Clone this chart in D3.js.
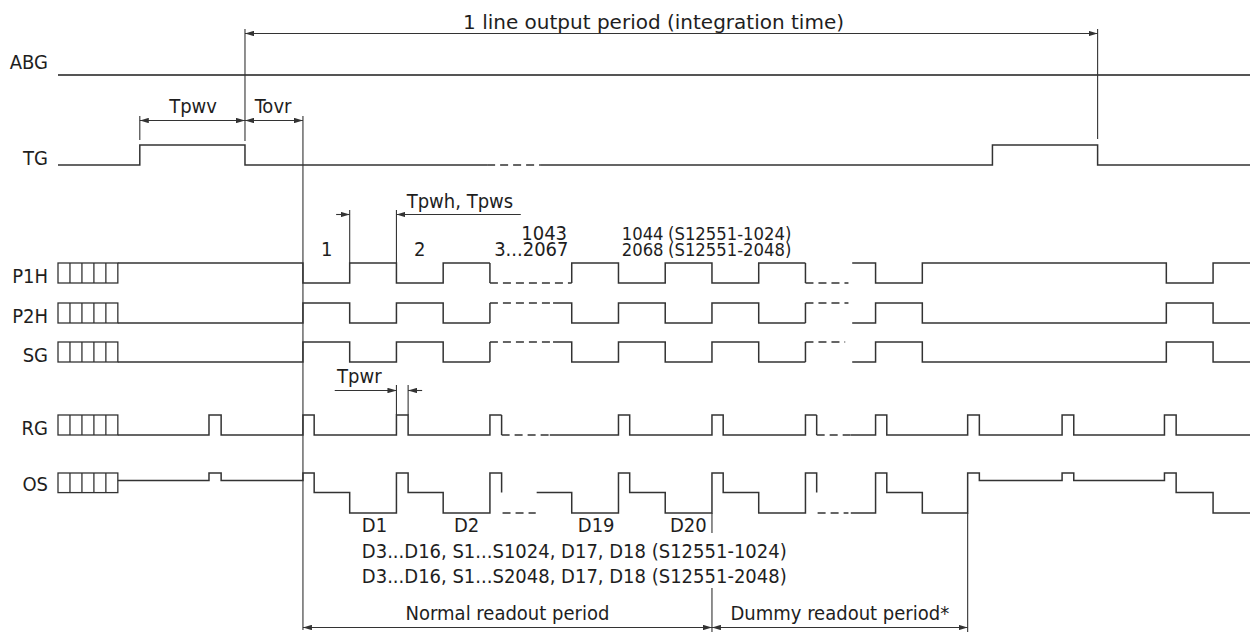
<!DOCTYPE html>
<html><head><meta charset="utf-8">
<script src="https://cdn.jsdelivr.net/npm/d3@7"></script>
<style>
body{margin:0;background:#fff}
text{font-family:'DejaVu Sans Condensed','DejaVu Sans',sans-serif;font-stretch:condensed;font-size:20px;fill:#1e1e1e}
text.wide{font-family:'DejaVu Sans',sans-serif;font-stretch:normal}
text.small{font-size:18.3px}
</style>
</head><body>
<svg id="c" width="1250" height="632"></svg>
<script>
// ---- data: time in half-clock units (0 = start of readout) ----
const tStart = -5.24, tEnd = 20.26, tBox = -3.96;
const rowNames = ["ABG","TG","P1H","P2H","SG","RG","OS"];
const boxRows = ["P1H","P2H","SG","RG","OS"];
const boxCells = 5;
// segments: [t0, t1, level, style]  style "d" = dashed (omitted = solid)
const abgWave = [[tStart, tEnd, 1]];
const tgWave = [[-5.24,-3.49,0],[-3.49,-1.24,1],[-1.24,3.94,0],[3.94,5.09,0,"d"],[5.09,14.75,0],[14.75,17.0,1],[17.0,20.26,0]];
const p1hWave = [[-3.96,0,1],[0,1,0],[1,2,1],[2,3,0],[3,4,1],[4,5.75,0,"d"],[5.75,6.75,1],[6.75,7.75,0],[7.75,8.75,1],[8.75,9.75,0],[9.75,10.75,1],[10.75,11.67,0,"d"],[11.75,12.25,1],[12.25,13.25,0],[13.25,18.47,1],[18.47,19.47,0],[19.47,20.26,1]];
const p2hWave = [[-3.96,0,0],[0,1,1],[1,2,0],[2,3,1],[3,4,0],[4,5.35,1,"d"],[5.35,5.75,1],[5.75,6.75,0],[6.75,7.75,1],[7.75,8.75,0],[8.75,9.75,1],[9.75,10.75,0],[10.75,11.67,1,"d"],[11.75,12.25,0],[12.25,13.25,1],[13.25,18.47,0],[18.47,19.47,1],[19.47,20.26,0]];
const sgWave = [[-3.96,0,0],[0,1,1],[1,2,0],[2,3,1],[3,4,0],[4,5.35,1,"d"],[5.35,5.75,1],[5.75,6.75,0],[6.75,7.75,1],[7.75,8.75,0],[8.75,9.75,1],[9.75,10.75,0],[10.75,11.6,1,"d"],[11.75,12.25,0],[12.25,13.25,1],[13.25,18.47,0],[18.47,19.47,1],[19.47,20.26,0]];
const rgWave = [[-3.96,-2.01,0],[-2.01,-1.75,1],[-1.75,0,0],[0,0.24,1],[0.24,2,0],[2,2.25,1],[2.25,4,0],[4,4.25,1],[4.25,5.28,0,"d"],[5.28,6.75,0],[6.75,6.99,1],[6.99,8.75,0],[8.75,8.99,1],[8.99,10.75,0],[10.75,10.99,1],[10.99,11.72,0,"d"],[11.72,12.25,0],[12.25,12.49,1],[12.49,14.22,0],[14.22,14.47,1],[14.47,16.24,0],[16.24,16.49,1],[16.49,18.43,0],[18.43,18.68,1],[18.68,20.26,0]];
// OS levels: T top, B base, M mid, L low
const T = 1, B = 0.81, M = 0.51, L = 0;
const osWave = [[-3.96,-2.01,B],[-2.01,-1.75,T],[-1.75,0,B],[0,0.24,T],[0.24,1,M],[1,2,L],[2,2.25,T],[2.25,3,M],[3,4,L],[4,4.25,T],[4.25,4.25,M],[4.27,4.98,L,"d"],[5.0,5.75,M],[5.75,6.75,L],[6.75,6.99,T],[6.99,7.75,M],[7.75,8.75,L],[8.75,8.99,T],[8.99,9.75,M],[9.75,10.75,L],[10.75,10.99,T],[10.99,10.99,M],[11.01,11.67,L,"d"],[11.72,12.25,L],[12.25,12.49,T],[12.49,13.25,M],[13.25,14.22,L],[14.22,14.47,T],[14.47,16.24,B],[16.24,16.49,T],[16.49,18.43,B],[18.43,18.68,T],[18.68,19.47,M],[19.47,20.26,L]];
const waves = {ABG:abgWave, TG:tgWave, P1H:p1hWave, P2H:p2hWave, SG:sgWave, RG:rgWave, OS:osWave};

const pixelLabels = ["1","2","3...2067"];
const pixelLabelT = [0.51, 2.5, 4.09];
const countNumbers = ["1043","1044","2068"];
const countModels = ["(S12551-1024)","(S12551-2048)"];
const dLabels = ["D1","D2","D19","D20"];
const dLabelT = [1.26, 3.23, 5.88, 7.85];
const readoutLines = ["D3...D16, S1...S1024, D17, D18 (S12551-1024)","D3...D16, S1...S2048, D17, D18 (S12551-2048)"];
const periodLabels = ["Normal readout period","Dummy readout period*"];
const periodBounds = [[0, 8.75],[8.75, 14.22]];
const lineOutputLabel = "1 line output period (integration time)";
const lineOutputBounds = [-1.24, 17.0];

// ---- layout ----
const svg = d3.select("#c");
const x = d3.scaleLinear().domain([tStart, tEnd]).range([58, 1250]);
const rowY = {
  ABG: d3.scaleLinear().domain([0,1]).range([75,75]),
  TG:  d3.scaleLinear().domain([0,1]).range([165,145]),
  P1H: d3.scaleLinear().domain([0,1]).range([283,263]),
  P2H: d3.scaleLinear().domain([0,1]).range([323,303]),
  SG:  d3.scaleLinear().domain([0,1]).range([362,342]),
  RG:  d3.scaleLinear().domain([0,1]).range([435,415]),
  OS:  d3.scaleLinear().domain([0,1]).range([513,473])
};
const labelBase = {ABG:69, TG:165, P1H:283, P2H:323, SG:362, RG:435, OS:491};
const ink = "#333";

// defs arrowheads
const defs = svg.append("defs");
defs.append("marker").attr("id","ah").attr("viewBox","0 0 10 6").attr("refX",10).attr("refY",3)
  .attr("markerWidth",9).attr("markerHeight",5.5).attr("markerUnits","userSpaceOnUse").attr("orient","auto-start-reverse")
  .append("path").attr("d","M0,0L10,3L0,6Z").attr("fill",ink);

// waveforms
rowNames.forEach(name => {
  const segs = waves[name], y = rowY[name];
  const solid = d3.path(), dashed = d3.path();
  let prev = null;
  segs.forEach(s => {
    const [t0,t1,lv,st] = s;
    const contiguous = prev && Math.abs(prev[1]-t0) < 1e-9;
    if (st === "d") {
      if (contiguous && prev[2] !== lv) { solid.moveTo(x(t0), y(prev[2])); solid.lineTo(x(t0), y(lv)); }
      dashed.moveTo(x(t0), y(lv)); dashed.lineTo(x(t1), y(lv));
    } else {
      if (contiguous) {
        if (prev[3] === "d") solid.moveTo(x(t0), y(prev[2]));
        solid.lineTo(x(t0), y(lv));
      } else solid.moveTo(x(t0), y(lv));
      solid.lineTo(x(t1), y(lv));
    }
    prev = s;
  });
  svg.append("path").attr("d", solid.toString()).attr("fill","none")
    .attr("stroke", name==="ABG" ? "#555" : ink)
    .attr("stroke-width", name==="ABG"?2:1.5).attr("stroke-linejoin","miter");
  svg.append("path").attr("d", dashed.toString()).attr("fill","none").attr("stroke",ink)
    .attr("stroke-width",1.5).attr("stroke-dasharray","8,5");
  svg.append("text").attr("x",48).attr("y",labelBase[name]).attr("text-anchor","end").text(name);
});

// label boxes
boxRows.forEach(name => {
  const y = rowY[name];
  const yTop = y(1), yBot = name==="OS" ? y(M) : y(0);
  const cell = (x(tBox)-x(tStart))/boxCells;
  svg.append("rect").attr("x",x(tStart)).attr("y",yTop).attr("width",x(tBox)-x(tStart)).attr("height",yBot-yTop)
    .attr("fill","none").attr("stroke",ink).attr("stroke-width",1.3);
  d3.range(1,boxCells).forEach(i => svg.append("line").attr("x1",x(tStart)+i*cell).attr("x2",x(tStart)+i*cell)
    .attr("y1",yTop).attr("y2",yBot).attr("stroke",ink).attr("stroke-width",1.3));
});

// helper lines
function vline(t,y1,y2){ svg.append("line").attr("x1",x(t)).attr("x2",x(t)).attr("y1",y1).attr("y2",y2).attr("stroke",ink).attr("stroke-width",1.1); }
function arrow(t0,t1,y,startHead,endHead){
  const l = svg.append("line").attr("x1",x(t0)).attr("x2",x(t1)).attr("y1",y).attr("y2",y).attr("stroke",ink).attr("stroke-width",1.1);
  if (startHead) l.attr("marker-start","url(#ah)");
  if (endHead) l.attr("marker-end","url(#ah)");
}
function label(str,t,y,anchor,cls){ return svg.append("text").attr("class",cls||null).attr("x",x(t)).attr("y",y).attr("text-anchor",anchor||"start").text(str); }

// 1 line output period
vline(lineOutputBounds[0], 29, 141);
vline(lineOutputBounds[1], 29, 139);
arrow(lineOutputBounds[0], lineOutputBounds[1], 33.5, true, true);
label(lineOutputLabel, 7.5, 29, "middle", "wide");

// Tpwv / Tovr
vline(-3.49, 116, 140);
vline(0, 116, 630);
arrow(-3.49, -1.24, 120.5, true, true);
arrow(-1.24, 0, 120.5, true, true);
label("Tpwv", -2.35, 113, "middle");
label("Tovr", -1.03, 113);

// Tpwh, Tpws
vline(1, 210, 263); vline(2, 210, 263);
arrow(0.71, 1, 214.5, false, true);
arrow(2, 4.66, 214.5, true, false);
label("Tpwh, Tpws", 2.22, 208);

// pixel counts
pixelLabels.forEach((s,i) => label(s, pixelLabelT[i], 256, i<2?"middle":"start"));
label(countNumbers[0], 5.65, 240, "end");
label(countNumbers[1], 6.82, 240, "start", "small");
label(countNumbers[2], 6.82, 256, "start", "small");
countModels.forEach((s,i) => label(s, 7.81, 240 + i*16, "start", "small"));

// Tpwr
vline(2, 385, 415); vline(2.25, 385, 415);
arrow(0.68, 2, 390.5, false, true);
arrow(2.25, 2.55, 390.5, true, false);
label("Tpwr", 0.73, 383);

// D labels and readout text
dLabels.forEach((s,i) => label(s, dLabelT[i], 532));
readoutLines.forEach((s,i) => label(s, 1.26, 558 + i*25));
vline(periodBounds[0][1], 513, 533);
vline(periodBounds[0][1], 588, 632);
vline(periodBounds[1][1], 513, 632);
periodLabels.forEach((s,i) => {
  const [a,b] = periodBounds[i];
  arrow(a, b, 627.5, true, true);
  label(s, (a+b)/2, 620, "middle");
});
</script>
</body></html>
